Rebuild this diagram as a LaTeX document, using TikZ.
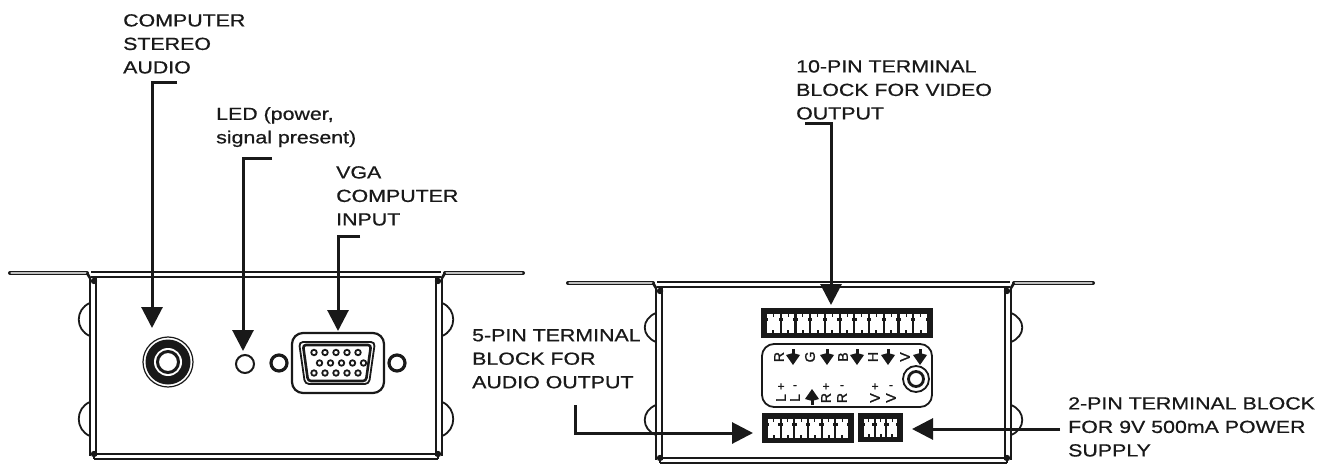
\documentclass[tikz,border=0pt]{standalone}
\usepackage{fontspec}
\setmainfont[FakeStretch=1.22,FakeBold=0.7]{Liberation Sans}
\newfontfamily\panelfont[FakeBold=1.5]{Liberation Sans}
\usetikzlibrary{arrows.meta}
\definecolor{ink}{gray}{0.1}
\tikzset{
  lab/.style={inner sep=0pt,anchor=north west,align=left,text=ink,font=\fontsize{17.5}{23.5}\selectfont},
  conn/.style={draw=ink,line width=3pt,-{Triangle[length=21pt,width=21pt]}},
  wall/.style={draw=ink,line width=1.6pt},
  thick wall/.style={draw=ink,line width=2.7pt},
  flange/.style={draw=ink,line width=4pt,line cap=round},
  flange core/.style={draw=white!75!black,line width=1.2pt,line cap=round},
  tiny lab/.style={inner sep=0pt,text=ink,font=\panelfont\fontsize{14}{14}\selectfont},
  pin/.style={draw=ink,line width=1.8pt,fill=white,inner sep=0pt,minimum size=5.5pt,circle}
}
\newcommand{\smalldown}[2]{\fill[ink] (#1-7,#2-2) -- (#1,#2-4) -- (#1+7,#2-2) -- (#1,#2+8) -- cycle; \fill[ink] (#1-1.5,#2-8) rectangle (#1+1.5,#2);}
\newcommand{\smallup}[2]{\fill[ink] (#1-7,#2+2) -- (#1,#2+4) -- (#1+7,#2+2) -- (#1,#2-8) -- cycle; \fill[ink] (#1-1.5,#2+8) rectangle (#1+1.5,#2);}
\newcommand{\housing}[6]{
  \draw[flange] (#5,#3-2) -- (#1-4,#3-2);
  \draw[flange core] (#5+1,#3-2) -- (#1-5,#3-2);
  \draw[flange] (#6,#3-2) -- (#2+4,#3-2);
  \draw[flange core] (#6-1,#3-2) -- (#2+5,#3-2);
  \draw[thick wall] (#1-4,#3-2) -- (#1-1,#3+3);
  \draw[thick wall] (#2+4,#3-2) -- (#2+1,#3+3);
  \draw[thick wall] (#1,#3-3) -- (#2,#3-3);
  \draw[wall] (#1,#3+2) -- (#2,#3+2);
  \draw[thick wall] (#1-1,#3+2) -- (#1-1,#4-3);
  \draw[wall] (#1+5,#3+2) -- (#1+5,#4-3);
  \draw[thick wall] (#2+1,#3+2) -- (#2+1,#4-3);
  \draw[wall] (#2-5,#3+2) -- (#2-5,#4-3);
  \draw[wall] (#1+3,#4-5) -- (#2-3,#4-5);
  \draw[thick wall] (#1+3,#4) -- (#2-3,#4);
  \draw[wall] (#1+3,#4-5) -- (#1+3,#4); \draw[wall] (#2-3,#4-5) -- (#2-3,#4);
  \foreach \xx in {#1+3,#2-3}{\foreach \yy in {#3+6,#4-5}{\fill[ink] (\xx,\yy) circle (3.2pt);}}
}
\newcommand{\bump}[4]{\draw[draw=ink,line width=1.8pt] (#1,#2) .. controls (#4,#2+6) and (#4,#3-6) .. (#1,#3);}
% terminal strip: x0,x1,y0,y1,columns
\newcommand{\strip}[5]{
  \fill[ink] (#1,#3) rectangle (#2,#4);
  \fill[white] (#1+5,#3+6) rectangle (#2-5,#4-5);
  \pgfmathsetmacro{\pitch}{(#2-#1-10)/#5}
  \foreach \k in {0,...,#5}{
    \pgfmathsetmacro{\xa}{#1+5+\k*\pitch}
    \fill[ink] (\xa-1.1,#3+6) rectangle (\xa+1.1,#4-5);
    \fill[ink] (\xa-2.2,#3+10) rectangle (\xa+2.2,#3+13);
  }
  \foreach \k in {1,...,#5}{
    \pgfmathsetmacro{\xa}{#1+5+(\k-.5)*\pitch}
    \fill[ink] (\xa-.4,#3+6) rectangle (\xa+.4,#3+8.5);
    \fill[ink] (\xa-1,#4-8) rectangle (\xa+1,#4-5);
  }
}
\begin{document}
\begin{tikzpicture}[x=1pt,y=-1pt]
\useasboundingbox (0,0) rectangle (1330,465);
\fill[white] (0,0) rectangle (1330,465);

% ===== left unit =====
\housing{91}{441}{275}{459}{10}{523}
\bump{90}{303}{336}{75}
\bump{90}{402}{436}{75}
\bump{442}{303}{336}{457}
\bump{442}{402}{436}{457}

% jack
\node[circle,draw=ink,line width=1.2pt,minimum size=50pt,inner sep=0pt] (jack) at (168,362) {};
\fill[ink] (168,362) circle (22.5pt);
\fill[white] (168,362) circle (14pt);
\draw[ink,line width=3pt] (168,362) circle (10.5pt);
% led
\node[circle,draw=ink,line width=2pt,minimum size=18pt,inner sep=0pt] (led) at (245,364) {};
\node[circle,draw=ink,line width=3.2pt,minimum size=16pt,inner sep=0pt] (screwL) at (279,363) {};
\node[circle,draw=ink,line width=3.2pt,minimum size=16pt,inner sep=0pt] (screwR) at (397,363) {};
% vga
\node[draw=ink,line width=2.2pt,rounded corners=11pt,minimum width=92pt,minimum height=60pt,inner sep=0pt] (vga) at (338,363) {};
\draw[ink,line width=1.8pt,rounded corners=4pt] (299,342) -- (375,342) -- (369,384) -- (305,384) -- cycle;
\draw[ink,line width=2.6pt,rounded corners=3pt] (303,345) -- (371,345) -- (366,381) -- (308,381) -- cycle;
\foreach \x in {314,325,336,347,358}{
  \node[pin] at (\x,352.5) {};
  \node[pin] at (\x,373) {};
}
\foreach \x in {319.5,330.5,341.5,352.5,363.5}{\node[pin] at (\x,363) {};}

% ===== right unit =====
\housing{657}{1010}{285}{463}{568}{1093}
\bump{656}{313}{342}{641}
\bump{656}{405}{435}{641}
\bump{1011}{313}{342}{1026}
\bump{1011}{405}{435}{1026}

\node[minimum width=172pt,minimum height=30pt,inner sep=0pt] (top strip) at (847,323) {};
\strip{761}{933}{308}{338}{11}
\node[draw=ink,line width=1.8pt,rounded corners=12pt,minimum width=170pt,minimum height=63pt,inner sep=0pt] (panel) at (847,375.5) {};
\node[minimum width=92pt,minimum height=30pt,inner sep=0pt] (audio strip) at (808,428) {};
\strip{762}{854}{413}{443}{6}
\node[minimum width=45pt,minimum height=29pt,inner sep=0pt] (power strip) at (880.5,427.5) {};
\strip{858}{903}{413}{442}{3}
\node[circle,draw=ink,line width=1.8pt,minimum size=26pt,inner sep=0pt] (trim) at (916,379) {};
\node[circle,draw=ink,line width=2.8pt,minimum size=15pt,inner sep=0pt] at (916,379) {};

% panel lettering
\foreach \ch/\x in {R/779,G/810,B/843,H/873,V/905}{
  \node[tiny lab,rotate=90] at (\x,357) {\ch};
}
\smalldown{793}{357}\smalldown{827}{357}\smalldown{857}{357}\smalldown{888}{357}\smalldown{920}{357}
\foreach \ch/\x/\s in {L/781/+,L/795/-,R/826/+,R/842/-,V/875/+,V/891/-}{
  \node[tiny lab,rotate=90] at (\x,398) {\ch};
  \node[tiny lab] at (\x,387) {\fontsize{12}{12}\selectfont \s};
}
\smallup{812}{397}

% ===== labels =====
\node[lab] (stereo text) at (123,14) {COMPUTER\\STEREO\\AUDIO};
\node[lab] (led text) at (216,107) {LED (power,\\signal present)};
\node[lab] (vga text) at (336,166) {VGA\\COMPUTER\\INPUT};
\node[lab] (video text) at (796,60) {10-PIN TERMINAL\\BLOCK FOR VIDEO\\OUTPUT};
\node[lab] (audio text) at (472,329) {5-PIN TERMINAL\\BLOCK FOR\\AUDIO OUTPUT};
\node[lab] (power text) at (1068,397) {2-PIN TERMINAL BLOCK\\FOR 9V 500mA POWER\\SUPPLY};

% ===== connectors =====
\coordinate (s1) at (177,83);   \coordinate (t1) at (152,328);
\coordinate (s2) at (272,159);  \coordinate (t2) at (243,351);
\coordinate (s3) at (360,236);  \coordinate (t3) at (338,331);
\coordinate (s4) at (805,124);  \coordinate (t4) at (831,305);
\coordinate (s5) at (575,405);  \coordinate (t5) at (753,433);
\coordinate (s6) at (1060,429); \coordinate (t6) at (912,429);
\draw[conn] (s1) -| (t1);
\draw[conn] (s2) -| (t2);
\draw[conn] (s3) -| (t3);
\draw[conn] (s4) -| (t4);
\draw[conn] (s5) |- (t5);
\draw[conn] (s6) -- (t6);
\end{tikzpicture}
\end{document}
